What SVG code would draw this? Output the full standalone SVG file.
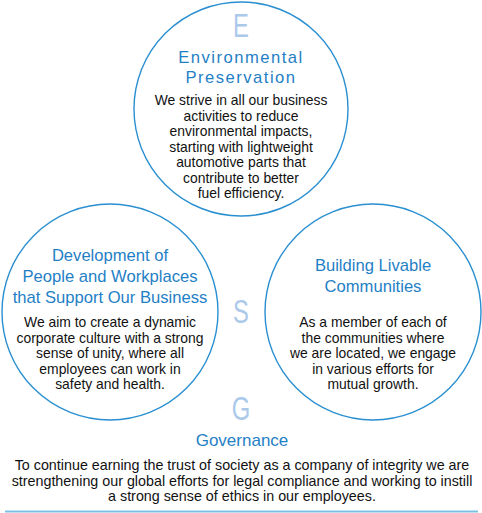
<svg xmlns="http://www.w3.org/2000/svg" width="482" height="513" viewBox="0 0 482 513">
<style>
.c{fill:#fff;stroke:#2a8fd0;stroke-width:1.4}
.t{font-family:"Liberation Sans",Arial,sans-serif;font-size:16.6px;fill:#1f80c6;text-anchor:middle}
.b{font-family:"Liberation Sans",Arial,sans-serif;font-size:13.9px;fill:#111;text-anchor:middle}
.L{font-family:"Liberation Sans",Arial,sans-serif;font-size:33px;fill:#abc9ea;text-anchor:middle}
</style>
<rect width="482" height="513" fill="#fff"/>
<g id="env">
<circle class="c" cx="241" cy="109" r="107"/>
<text class="L" transform="translate(241 37) scale(0.72 1)">E</text>
<text class="t" x="241" y="63" style="letter-spacing:1.5px">Environmental</text>
<text class="t" x="241" y="83" style="letter-spacing:1.5px">Preservation</text>
<text class="b" x="241" y="105">We strive in all our business</text>
<text class="b" x="241" y="120.5">activities to reduce</text>
<text class="b" x="241" y="136">environmental impacts,</text>
<text class="b" x="241" y="151.5">starting with lightweight</text>
<text class="b" x="241" y="167">automotive parts that</text>
<text class="b" x="241" y="182.5">contribute to better</text>
<text class="b" x="241" y="198">fuel efficiency.</text>
</g>
<g id="social-people">
<circle class="c" cx="110" cy="312" r="108"/>
<text class="t" x="110" y="261">Development of</text>
<text class="t" x="110" y="282">People and Workplaces</text>
<text class="t" x="110" y="303">that Support Our Business</text>
<text class="b" x="110" y="327">We aim to create a dynamic</text>
<text class="b" x="110" y="342.5">corporate culture with a strong</text>
<text class="b" x="110" y="358">sense of unity, where all</text>
<text class="b" x="110" y="373.5">employees can work in</text>
<text class="b" x="110" y="389">safety and health.</text>
</g>
<g id="social-communities">
<circle class="c" cx="373" cy="312" r="108"/>
<text class="t" x="373" y="271">Building Livable</text>
<text class="t" x="373" y="292">Communities</text>
<text class="b" x="373" y="327">As a member of each of</text>
<text class="b" x="373" y="342.5">the communities where</text>
<text class="b" x="373" y="358">we are located, we engage</text>
<text class="b" x="373" y="373.5">in various efforts for</text>
<text class="b" x="373" y="389">mutual growth.</text>
</g>
<g id="s-letter">
<text class="L" transform="translate(241 323) scale(0.72 1)">S</text>
</g>
<g id="governance">
<text class="L" transform="translate(241 420) scale(0.72 1)">G</text>
<text class="t" x="242" y="446" style="font-size:17px">Governance</text>
<text class="b" x="242" y="470" style="font-size:14.3px">To continue earning the trust of society as a company of integrity we are</text>
<text class="b" x="242" y="485.5" style="font-size:14.3px">strengthening our global efforts for legal compliance and working to instill</text>
<text class="b" x="242" y="501" style="font-size:14.3px">a strong sense of ethics in our employees.</text>
</g>
<g id="connectors">
<line x1="5" y1="511.5" x2="478" y2="511.5" stroke="#7cc0e4" stroke-width="2"/>
</g>
</svg>
